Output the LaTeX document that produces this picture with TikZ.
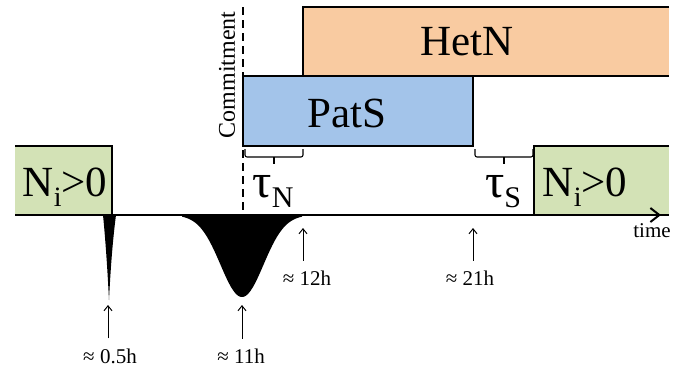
\documentclass[tikz,border=0pt]{standalone}
\usepackage{fontspec}
\setmainfont{Liberation Serif}
\usetikzlibrary{arrows.meta,calc,positioning}
\definecolor{nigreen}{HTML}{D3E2B6}
\definecolor{hetorange}{HTML}{F9CBA1}
\definecolor{patblue}{HTML}{A3C4EA}
\newcommand{\phasefont}{\fontsize{43}{43}\selectfont}
\newcommand{\hourfont}{\fontsize{21}{21}\selectfont}
\newcommand{\Ni}{N\raisebox{-10pt}{\fontsize{28}{28}\selectfont i}>0}
\newcommand{\tauidx}[1]{{\fontsize{48}{48}\selectfont τ}\raisebox{-10pt}{\fontsize{30}{30}\selectfont #1}}

\begin{document}
\begin{tikzpicture}[x=1pt, y=-1pt, >=Stealth,
    phase/.style={anchor=north west, inner sep=0pt, outer sep=0pt},
    phasetext/.style={anchor=base, inner sep=0pt, font=\phasefont},
    edge/.style={line width=1.3pt},
    delay/.style={line width=1.1pt, rounded corners=2pt},
    hours/.style={font=\hourfont, inner sep=1pt},
    uparrow/.style={line width=1pt, shorten <=9pt, -{Straight Barb[length=5pt,width=8pt]}}]
  \useasboundingbox (0,0) rectangle (675,370);
  % Phase boxes
  \node[phase, fill=hetorange, minimum width=366pt, minimum height=69pt] (hetn) at (303,7) {};
  \node[phase, fill=patblue, minimum width=230pt, minimum height=70pt] (pats) at (243,76) {};
  \node[phase, fill=nigreen, minimum width=97pt, minimum height=69pt] (niA) at (15,146) {};
  \node[phase, fill=nigreen, minimum width=135pt, minimum height=69pt] (niB) at (534,146) {};
  % borders, open at the picture edges
  \draw[edge] (hetn.north east) -- (hetn.north west) -- (hetn.south west) -- (hetn.south east);
  \draw[edge] (pats.north west) rectangle (pats.south east);
  \draw[edge] (niA.north west) -- (niA.north east) -- (niA.south east);
  \draw[edge] (niB.north east) -- (niB.north west) -- (niB.south west) -- (niB.south east);
  \node[phasetext] (hetnlbl) at (467,55) {HetN};
  \node[phasetext] (patslbl) at (347,127) {PatS};
  \node[phasetext] (niAlbl) at (65,196) {\Ni};
  \node[phasetext] (niBlbl) at (585,196) {\Ni};
  % Commitment
  \coordinate (c0) at (243,7);
  \draw[edge, dash pattern=on 8pt off 5pt] (c0) -- (c0 |- niA.south);
  \node[rotate=90, inner sep=0pt, font=\fontsize{24}{24}\selectfont] (commit) at (227,75) {Commitment};
  % Time axis
  \coordinate (t0) at (15,215);
  \coordinate (t1) at (661,215);
  \draw[line width=2pt, -{Straight Barb[length=9pt,width=14pt]}] (t0) -- (t1);
  \node[inner sep=0pt, font=\fontsize{21}{21}\selectfont] (timelbl) at (652,231) {time};
  % Delays
  \coordinate (bn1) at (245,149);
  \coordinate (bn2) at (303,149);
  \coordinate (bs1) at (475,149);
  \coordinate (bs2) at (533,149);
  \draw[delay] (bn1) -- ++(0,8) -- ++(58,0) -- (bn2);
  \draw[line width=1.1pt] ($(bn1)!0.5!(bn2)+(0,8)$) -- ++(0,7);
  \draw[delay] (bs1) -- ++(0,8) -- ++(58,0) -- (bs2);
  \draw[line width=1.1pt] ($(bs1)!0.5!(bs2)+(0,8)$) -- ++(0,7);
  \node[phasetext] (tauN) at (273,197) {\tauidx{N}};
  \node[phasetext] (tauS) at (503,197) {\tauidx{S}};
  % Pulses
  \fill (103,215) .. controls (106,245) and (108,280) .. (109,300)
        .. controls (110,280) and (112,245) .. (116,215) -- cycle;
  \fill (182,215) -- plot[domain=182:302, samples=90] (\x, {215+82*exp(-((\x-242)^2)/(2*21.5^2))}) -- (302,215) -- cycle;
  % Times
  \node[hours] (h05) at (110,356) {≈ 0.5h};
  \node[hours] (h11) at (241,356) {≈ 11h};
  \node[hours] (h12) at (307,278) {≈ 12h};
  \node[hours] (h21) at (470,278) {≈ 21h};
  \coordinate (p05) at (108,305);
  \coordinate (p11) at (242,305);
  \coordinate (p12) at (303,228);
  \coordinate (p21) at (473,228);
  \draw[uparrow] (p05 |- h05.north) -- (p05);
  \draw[uparrow] (p11 |- h11.north) -- (p11);
  \draw[uparrow] (p12 |- h12.north) -- (p12);
  \draw[uparrow] (p21 |- h21.north) -- (p21);
\end{tikzpicture}
\end{document}
